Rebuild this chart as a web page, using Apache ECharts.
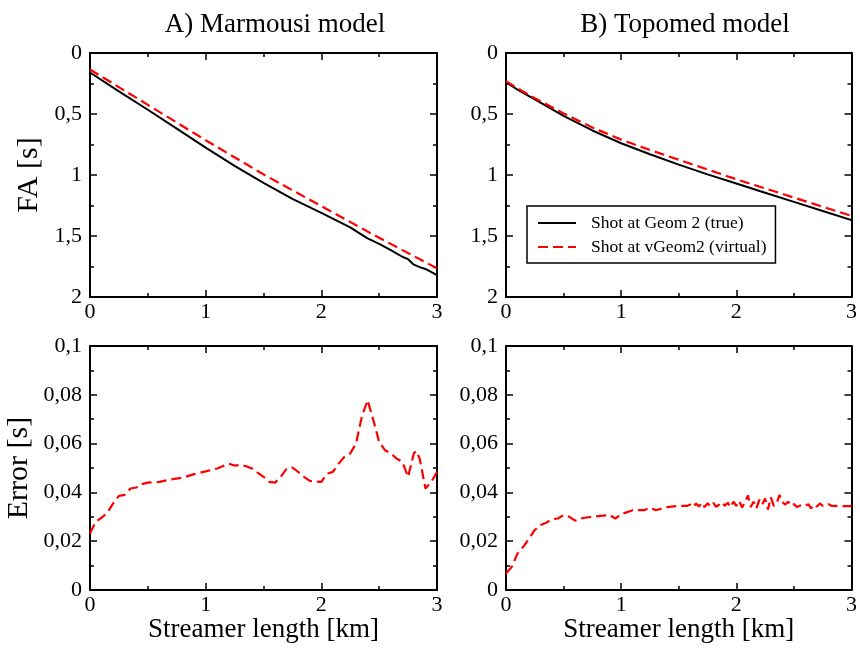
<!DOCTYPE html>
<html>
<head>
<meta charset="utf-8">
<script src="https://cdn.jsdelivr.net/npm/echarts@6/dist/echarts.min.js"></script>
<style>
  html, body { margin: 0; padding: 0; background: #fff; }
  #chart { width: 860px; height: 648px; }
</style>
</head>
<body>
<div id="chart"></div>
<script>
// Datos
const marmX = [0, 0.25, 0.5, 0.75, 1, 1.25, 1.5, 1.75, 2, 2.25, 2.3, 2.4, 2.5, 2.6, 2.7, 2.75, 2.8, 2.85, 2.9, 3];
const marmTrue = [0.16, 0.315, 0.465, 0.62, 0.775, 0.925, 1.065, 1.195, 1.31, 1.43, 1.46, 1.52, 1.565, 1.615, 1.67, 1.69, 1.735, 1.755, 1.77, 1.82];
const marmVX = [0, 0.5, 1, 1.5, 2, 2.5, 3];
const marmVirtual = [0.135, 0.425, 0.715, 0.995, 1.255, 1.515, 1.765];

const topoX = [0, 0.1, 0.25, 0.5, 0.75, 1, 1.25, 1.5, 1.75, 2, 2.25, 2.5, 2.75, 3];
const topoTrue = [0.24, 0.3, 0.38, 0.515, 0.635, 0.74, 0.83, 0.915, 0.995, 1.07, 1.145, 1.22, 1.295, 1.37];
const topoVirtual = [0.23, 0.29, 0.37, 0.495, 0.61, 0.71, 0.795, 0.875, 0.955, 1.035, 1.11, 1.185, 1.26, 1.335];

const marmErrX = [0, 0.05, 0.1, 0.15, 0.2, 0.25, 0.3, 0.35, 0.4, 0.45, 0.5, 0.6, 0.7, 0.8, 0.9, 1.0,
  1.1, 1.2, 1.25, 1.3, 1.35, 1.4, 1.5, 1.55, 1.6, 1.65, 1.7, 1.75, 1.8, 1.85, 1.9, 2.0,
  2.05, 2.1, 2.15, 2.2, 2.25, 2.3, 2.35, 2.4, 2.45, 2.5, 2.55, 2.6, 2.65, 2.7, 2.75, 2.8,
  2.82, 2.85, 2.9, 2.95, 3.0];
const marmErr = [0.0232, 0.028, 0.0296, 0.0317, 0.0355, 0.0386, 0.039, 0.0416, 0.042, 0.0434, 0.044, 0.0443, 0.0453, 0.046, 0.0475, 0.0486,
  0.0498, 0.0518, 0.051, 0.0513, 0.0507, 0.0498, 0.0464, 0.0443, 0.044, 0.0464, 0.0498, 0.0502, 0.0484, 0.0464, 0.0447, 0.0443,
  0.0477, 0.0484, 0.0518, 0.0546, 0.056, 0.06, 0.071, 0.0778, 0.0696, 0.0607, 0.0573, 0.056, 0.0539, 0.0525, 0.0464, 0.056,
  0.057, 0.0539, 0.0416, 0.0443, 0.0484];

const topoErrX = [0, 0.05, 0.1, 0.15, 0.2, 0.25, 0.3, 0.35, 0.4, 0.45, 0.5, 0.55, 0.6, 0.65, 0.7, 0.8, 0.9, 0.95, 1.0,
  1.1, 1.2, 1.25, 1.3, 1.4, 1.5, 1.525, 1.55, 1.575, 1.6, 1.625, 1.65, 1.675, 1.7, 1.725, 1.75, 1.775,
  1.8, 1.825, 1.85, 1.875, 1.9, 1.925, 1.95, 1.975, 2.0, 2.025, 2.05, 2.075, 2.1, 2.125, 2.15, 2.175,
  2.2, 2.225, 2.25, 2.275, 2.3, 2.325, 2.35, 2.375, 2.4, 2.425, 2.45, 2.475, 2.5, 2.525, 2.55, 2.575,
  2.6, 2.625, 2.65, 2.675, 2.7, 2.725, 2.75, 2.775, 2.8, 2.825, 2.85, 2.875, 2.9, 2.95, 3.0];
const topoErr = [0.0068, 0.0095, 0.015, 0.0177, 0.0211, 0.0246, 0.0266, 0.0276, 0.029, 0.0293, 0.0307, 0.03, 0.0284, 0.0293, 0.0297, 0.0303, 0.0307, 0.0293, 0.0311,
  0.0327, 0.0327, 0.0338, 0.0327, 0.034, 0.0345, 0.0345, 0.0345, 0.0345, 0.035, 0.034, 0.0355, 0.0342, 0.0358, 0.034, 0.0356, 0.0343,
  0.0357, 0.0341, 0.035, 0.036, 0.0345, 0.0358, 0.034, 0.0362, 0.0345, 0.0365, 0.0338, 0.036, 0.0388, 0.034, 0.0362, 0.0335,
  0.037, 0.035, 0.0375, 0.033, 0.038, 0.0345, 0.0355, 0.039, 0.036, 0.035, 0.0362, 0.0345, 0.0352, 0.034, 0.0345, 0.035,
  0.0345, 0.0352, 0.0335, 0.035, 0.0342, 0.0355, 0.0345, 0.0345, 0.0352, 0.0345, 0.0345, 0.0345, 0.0344, 0.0344, 0.0344];

const xTicks = { min: 0, max: 3, interval: 1 };
const faTicks = { min: 0, max: 2, interval: 0.5 };
const errTicks = { min: 0, max: 0.1, interval: 0.02 };

const FONT = '"Liberation Serif", "Times New Roman", serif';

function zip(xs, ys) {
  return xs.map(function(x, i) { return [x, ys[i]]; });
}

function fmtComa(v) {
  return String(+v.toFixed(3)).replace('.', ',');
}

// Ejes: uno con etiquetas y otro espejo sin etiquetas
function makeAxis(gridIndex, pos, ticks, extra) {
  const conEtiquetas = (pos === 'bottom' || pos === 'left');
  return Object.assign({
    type: 'value',
    gridIndex: gridIndex,
    position: pos,
    min: ticks.min,
    max: ticks.max,
    interval: ticks.interval,
    axisLine: { show: true, onZero: false, lineStyle: { color: '#000', width: 2 } },
    axisTick: { show: true, inside: true, length: 7, lineStyle: { color: '#000', width: 1.5 } },
    minorTick: { show: true, splitNumber: 2, length: 4, lineStyle: { color: '#000', width: 1.5 } },
    splitLine: { show: false },
    axisLabel: {
      show: conEtiquetas,
      color: '#000',
      fontFamily: FONT,
      fontSize: 22,
      margin: pos === 'left' ? 8 : 4,
      formatter: fmtComa
    }
  }, extra || {});
}

const grids = [
  { left: 90, top: 53, width: 347, height: 244 },
  { left: 506, top: 53, width: 347, height: 244 },
  { left: 90, top: 346, width: 347, height: 244 },
  { left: 506, top: 346, width: 347, height: 244 }
];

const nombreX = {
  name: 'Streamer length [km]',
  nameLocation: 'middle',
  nameGap: 16,
  nameTextStyle: { color: '#000', fontFamily: FONT, fontSize: 27 }
};

const xAxes = [];
const yAxes = [];
for (let g = 0; g < 4; g++) {
  xAxes.push(makeAxis(g, 'bottom', xTicks, g >= 2 ? nombreX : {}));
  xAxes.push(makeAxis(g, 'top', xTicks));
  const yt = g < 2 ? faTicks : errTicks;
  let extraY = { inverse: g < 2 };
  if (g === 0) {
    extraY = Object.assign(extraY, { name: 'FA [s]', nameLocation: 'middle', nameGap: 46,
      nameTextStyle: { color: '#000', fontFamily: FONT, fontSize: 30 } });
  }
  if (g === 2) {
    extraY = Object.assign(extraY, { name: 'Error [s]', nameLocation: 'middle', nameGap: 56,
      nameTextStyle: { color: '#000', fontFamily: FONT, fontSize: 30 } });
  }
  yAxes.push(makeAxis(g, 'left', yt, extraY));
  yAxes.push(makeAxis(g, 'right', yt, { inverse: g < 2 }));
}

const lineaNegra = { color: '#000', width: 2, type: 'solid' };
const lineaRoja = { color: '#ff0000', width: 2.2, type: [10, 5] };

function serie(name, g, data, estilo) {
  return {
    name: name,
    type: 'line',
    xAxisIndex: g * 2,
    yAxisIndex: g * 2,
    data: data,
    symbol: 'none',
    showSymbol: false,
    color: estilo.color,
    lineStyle: estilo,
    animation: false
  };
}

const chart = echarts.init(document.getElementById('chart'), null, { renderer: 'canvas' });

chart.setOption({
  backgroundColor: '#fff',
  animation: false,
  title: [
    { text: 'A) Marmousi model', left: 270, top: 6, textAlign: 'center',
      textStyle: { color: '#000', fontFamily: FONT, fontSize: 27, fontWeight: 'normal' } },
    { text: 'B) Topomed model', left: 680, top: 6, textAlign: 'center',
      textStyle: { color: '#000', fontFamily: FONT, fontSize: 27, fontWeight: 'normal' } }
  ],
  legend: {
    data: ['Shot at Geom 2 (true)', 'Shot at vGeom2 (virtual)'],
    orient: 'vertical',
    left: 527,
    top: 206,
    padding: [8, 9, 7, 10],
    itemGap: 6,
    itemWidth: 38,
    itemHeight: 14,
    itemStyle: { opacity: 0 },
    backgroundColor: '#fff',
    borderColor: '#000',
    borderWidth: 1.5,
    borderRadius: 0,
    textStyle: { color: '#000', fontFamily: FONT, fontSize: 17.5, padding: [0, 0, 0, 10] }
  },
  grid: grids,
  xAxis: xAxes,
  yAxis: yAxes,
  series: [
    serie('Shot at Geom 2 (true)', 0, zip(marmX, marmTrue), lineaNegra),
    serie('Shot at vGeom2 (virtual)', 0, zip(marmVX, marmVirtual), lineaRoja),
    serie('Shot at Geom 2 (true)', 1, zip(topoX, topoTrue), lineaNegra),
    serie('Shot at vGeom2 (virtual)', 1, zip(topoX, topoVirtual), lineaRoja),
    serie('Error Marmousi', 2, zip(marmErrX, marmErr), lineaRoja),
    serie('Error Topomed', 3, zip(topoErrX, topoErr), lineaRoja)
  ]
});
</script>
</body>
</html>
